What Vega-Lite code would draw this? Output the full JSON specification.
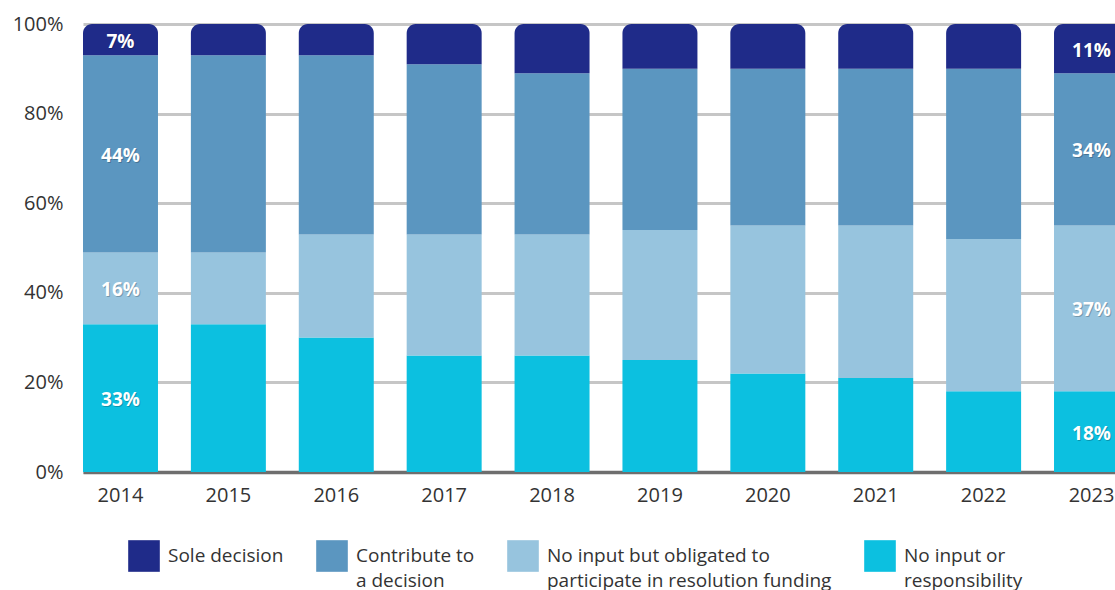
{
  "$schema": "https://vega.github.io/schema/vega-lite/v6.json",
  "width": 1032,
  "height": 448,
  "autosize": "none",
  "padding": {"left": 83, "top": 24, "right": 0, "bottom": 118},
  "config": {"font": "Open Sans", "view": {"stroke": null}},
  "data": {"values": [
    {"year": "2014", "category": "No input or responsibility", "value": 33},
    {"year": "2014", "category": "No input but obligated to participate in resolution funding", "value": 16},
    {"year": "2014", "category": "Contribute to a decision", "value": 44},
    {"year": "2014", "category": "Sole decision", "value": 7},
    {"year": "2015", "category": "No input or responsibility", "value": 33},
    {"year": "2015", "category": "No input but obligated to participate in resolution funding", "value": 16},
    {"year": "2015", "category": "Contribute to a decision", "value": 44},
    {"year": "2015", "category": "Sole decision", "value": 7},
    {"year": "2016", "category": "No input or responsibility", "value": 30},
    {"year": "2016", "category": "No input but obligated to participate in resolution funding", "value": 23},
    {"year": "2016", "category": "Contribute to a decision", "value": 40},
    {"year": "2016", "category": "Sole decision", "value": 7},
    {"year": "2017", "category": "No input or responsibility", "value": 26},
    {"year": "2017", "category": "No input but obligated to participate in resolution funding", "value": 27},
    {"year": "2017", "category": "Contribute to a decision", "value": 38},
    {"year": "2017", "category": "Sole decision", "value": 9},
    {"year": "2018", "category": "No input or responsibility", "value": 26},
    {"year": "2018", "category": "No input but obligated to participate in resolution funding", "value": 27},
    {"year": "2018", "category": "Contribute to a decision", "value": 36},
    {"year": "2018", "category": "Sole decision", "value": 11},
    {"year": "2019", "category": "No input or responsibility", "value": 25},
    {"year": "2019", "category": "No input but obligated to participate in resolution funding", "value": 29},
    {"year": "2019", "category": "Contribute to a decision", "value": 36},
    {"year": "2019", "category": "Sole decision", "value": 10},
    {"year": "2020", "category": "No input or responsibility", "value": 22},
    {"year": "2020", "category": "No input but obligated to participate in resolution funding", "value": 33},
    {"year": "2020", "category": "Contribute to a decision", "value": 35},
    {"year": "2020", "category": "Sole decision", "value": 10},
    {"year": "2021", "category": "No input or responsibility", "value": 21},
    {"year": "2021", "category": "No input but obligated to participate in resolution funding", "value": 34},
    {"year": "2021", "category": "Contribute to a decision", "value": 35},
    {"year": "2021", "category": "Sole decision", "value": 10},
    {"year": "2022", "category": "No input or responsibility", "value": 18},
    {"year": "2022", "category": "No input but obligated to participate in resolution funding", "value": 34},
    {"year": "2022", "category": "Contribute to a decision", "value": 38},
    {"year": "2022", "category": "Sole decision", "value": 10},
    {"year": "2023", "category": "No input or responsibility", "value": 18},
    {"year": "2023", "category": "No input but obligated to participate in resolution funding", "value": 37},
    {"year": "2023", "category": "Contribute to a decision", "value": 34},
    {"year": "2023", "category": "Sole decision", "value": 11}
  ]},
  "transform": [
    {"calculate": "indexof(['No input or responsibility','No input but obligated to participate in resolution funding','Contribute to a decision','Sole decision'], datum.category)", "as": "ord"},
    {"stack": "value", "groupby": ["year"], "sort": [{"field": "ord", "order": "ascending"}], "as": ["y0", "y1"]},
    {"calculate": "(datum.y0 + datum.y1) / 2", "as": "mid"},
    {"calculate": "datum.value + '%'", "as": "label"}
  ],
  "encoding": {
    "x": {
      "field": "year", "type": "ordinal",
      "scale": {"range": [0, 1046], "paddingInner": 0.305, "paddingOuter": 0},
      "axis": {
        "title": null, "labelAngle": 0, "ticks": false, "grid": false,
        "domain": true, "domainColor": "#6e6e6e", "domainWidth": 3.5,
        "labelFontSize": 20, "labelColor": "#333333", "labelPadding": 13
      }
    }
  },
  "layer": [
    {
      "transform": [{"filter": "datum.category != 'Sole decision'"}],
      "mark": {"type": "bar"},
      "encoding": {
        "y": {
          "field": "y0", "type": "quantitative",
          "scale": {"domain": [0, 100], "nice": false},
          "axis": {
            "title": null, "values": [0, 20, 40, 60, 80, 100],
            "labelExpr": "datum.value + '%'", "ticks": false, "domain": false,
            "gridColor": "#c6c6c6", "gridWidth": 3,
            "labelFontSize": 20, "labelColor": "#333333", "labelPadding": 20
          }
        },
        "y2": {"field": "y1"},
        "color": {
          "field": "category", "type": "nominal",
          "scale": {
            "domain": ["Sole decision", "Contribute to a decision", "No input but obligated to participate in resolution funding", "No input or responsibility"],
            "range": ["#1f2b89", "#5b96c0", "#97c4de", "#0cc0e0"]
          },
          "legend": {
            "title": null, "orient": "none", "legendX": 45, "legendY": 516,
            "direction": "horizontal", "symbolType": "square", "symbolSize": 1000,
            "symbolStrokeWidth": 0, "symbolOpacity": 1, "labelFontSize": 19, "labelColor": "#333333",
            "labelOffset": 8, "columnPadding": 32, "labelLimit": 500, "padding": 0,
            "labelExpr": "datum.label == 'Contribute to a decision' ? ['Contribute to', 'a decision'] : datum.label == 'No input but obligated to participate in resolution funding' ? ['No input but obligated to', 'participate in resolution funding'] : datum.label == 'No input or responsibility' ? ['No input or', 'responsibility'] : ['Sole decision', '']",
            "encode": {
              "labels": {"update": {"lineHeight": {"value": 25}, "dy": {"value": 0}}}
            }
          }
        }
      }
    },
    {
      "transform": [{"filter": "datum.category == 'Sole decision'"}],
      "mark": {"type": "bar", "cornerRadiusTopLeft": 9, "cornerRadiusTopRight": 9},
      "encoding": {
        "y": {"field": "y0", "type": "quantitative"},
        "y2": {"field": "y1"},
        "color": {"field": "category", "type": "nominal"}
      }
    },
    {
      "transform": [{"filter": "datum.year == '2014' || datum.year == '2023'"}],
      "mark": {"type": "text", "fontSize": 19, "fontWeight": "bold", "color": "#000000", "opacity": 0.22, "dx": 1, "dy": 3},
      "encoding": {
        "y": {"field": "mid", "type": "quantitative"},
        "text": {"field": "label"}
      }
    },
    {
      "transform": [{"filter": "datum.year == '2014' || datum.year == '2023'"}],
      "mark": {"type": "text", "fontSize": 19, "fontWeight": "bold", "color": "#ffffff", "dy": 2},
      "encoding": {
        "y": {"field": "mid", "type": "quantitative"},
        "text": {"field": "label"}
      }
    }
  ]
}
